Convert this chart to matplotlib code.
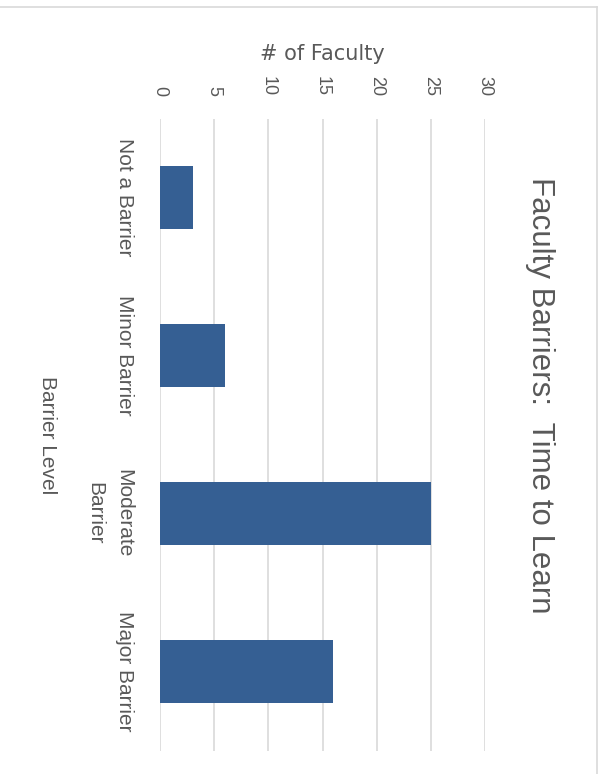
import matplotlib
matplotlib.use("Agg")
import matplotlib.pyplot as plt
from matplotlib.lines import Line2D

categories = ["Not a Barrier", "Minor Barrier", "Moderate\nBarrier", "Major Barrier"]
faculty_counts = [3, 6, 25, 16]
x_ticks = [0, 5, 10, 15, 20, 25, 30]
title = "Faculty Barriers:  Time to Learn"
x_label = "# of Faculty"
y_label = "Barrier Level"

W, H = 599, 774
TXT = "#595959"
BAR = "#355F93"
GRID = "#D9D9D9"
FONT = ["Liberation Sans", "DejaVu Sans"]

fig = plt.figure(figsize=(W / 100, H / 100), dpi=100)
fig.patch.set_facecolor("white")

ax_left, ax_right = 160 / W, 485 / W
ax_top, ax_bot = 1 - 118.5 / H, 1 - 750.5 / H
ax = fig.add_axes([ax_left, ax_bot, ax_right - ax_left, ax_top - ax_bot])

ypos = list(range(len(categories)))
ax.barh(ypos, faculty_counts, height=0.4, color=BAR, zorder=3)
ax.set_xlim(0, 30)
ax.set_ylim(len(categories) - 0.5, -0.5)

ax.set_xticks(x_ticks)
ax.xaxis.tick_top()
ax.set_xticklabels([str(v) for v in x_ticks], rotation=-90, fontsize=13,
                   color=TXT, family=FONT)
ax.tick_params(axis="x", length=0, pad=16)

ax.set_yticks(ypos)
ax.set_yticklabels(categories, rotation=-90, fontsize=15, color=TXT,
                   family=FONT, va="center", ha="right")
for t in ax.get_yticklabels():
    t.set_multialignment("center")
    t.set_linespacing(1.7)
ax.tick_params(axis="y", length=0, pad=19)

ax.grid(axis="x", color=GRID, linewidth=1.2, zorder=0)
ax.grid(axis="y", visible=False)
for s in ax.spines.values():
    s.set_visible(False)

fig.text(322 / W, 1 - 54 / H, x_label, ha="center", va="center",
         fontsize=15, color=TXT, family=["DejaVu Sans"])
fig.text(47 / W, 1 - 435 / H, y_label, ha="center", va="center",
         rotation=-90, fontsize=15, color=TXT, family=FONT)
fig.text(540 / W, 1 - 395 / H, title, ha="center", va="center",
         rotation=-90, fontsize=22.5, color=TXT, family=FONT)

fig.add_artist(Line2D([0, 597 / W], [1 - 7 / H, 1 - 7 / H],
                      transform=fig.transFigure, color=GRID, linewidth=1.2))
fig.add_artist(Line2D([597 / W, 597 / W], [1 - 7 / H, 0],
                      transform=fig.transFigure, color=GRID, linewidth=1.2))

fig.savefig("out.png", dpi=100, facecolor="white")
